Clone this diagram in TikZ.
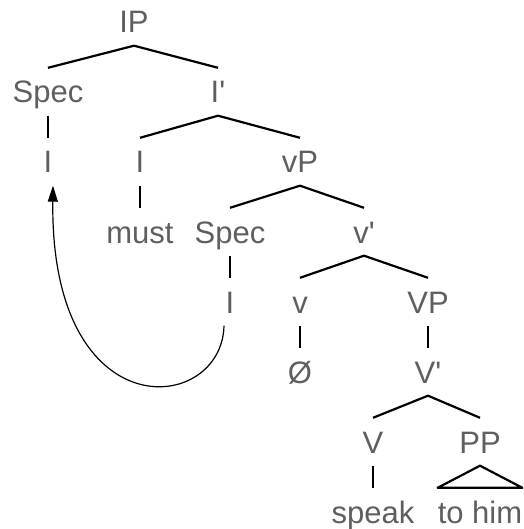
\documentclass[tikz,border=0pt]{standalone}
\usepackage{fontspec}
\setmainfont{Liberation Sans}
\usetikzlibrary{arrows.meta}
\definecolor{lbl}{RGB}{95,95,95}

\begin{document}
\begin{tikzpicture}[x=1pt,y=-1pt,>={Triangle[length=16pt,width=10pt]},
  every node/.style={anchor=base,text=lbl,inner xsep=0pt,inner ysep=12.5pt,
    text height=22.5pt,text depth=0pt,font=\fontsize{31}{37}\selectfont},
  branch/.style={line width=2.2pt,line join=round},
  unary/.style={line width=1.7pt}]
\useasboundingbox (0,0) rectangle (523,529);
%
\node (ip)      at (134,33)  {IP};
\node (ipspec)  at (48,103)  {Spec};
\node (ibar)    at (218,103) {I\textquotesingle};
\node (ipspecI) at (48,173)  {I};
\node (ihead)   at (140,173) {I};
\node (vp)      at (300,173) {vP};
\node (must)    at (140,243) {must};
\node (vpspec)  at (230,243) {Spec};
\node (vbar)    at (364,243) {v\textquotesingle};
\node (vpspecI) at (230,313) {I};
\node (vhead)   at (300,313) {v};
\node (bigvp)   at (428,313) {VP};
\node (null)    at (300,383) {Ø};
\node (bigvbar) at (428,383) {V\textquotesingle};
\node (bigv)    at (373,453) {V};
\node (pp)      at (480,453) {PP};
\node (speak)   at (373,523) {speak};
\node (tohim)   at (480,523) {to him};
%
\draw[branch] (ipspec.north) -- (ip.south) -- (ibar.north);
\draw[branch] (ihead.north) -- (ibar.south) -- (vp.north);
\draw[branch] (vpspec.north) -- (vp.south) -- (vbar.north);
\draw[branch] (vhead.north) -- (vbar.south) -- (bigvp.north);
\draw[branch] (bigv.north) -- (bigvbar.south) -- (pp.north);
\draw[branch] (tohim.north west) -- (pp.south) -- (tohim.north east) -- cycle;
%
\draw[unary] (ipspec) edge (ipspecI)
             (ihead) edge (must)
             (vpspec) edge (vpspecI)
             (vhead) edge (null)
             (bigvp) edge (bigvbar)
             (bigv) edge (speak);
%
\draw[->,line width=1.2pt] ([xshift=-6pt]vpspecI.south) .. controls +(-2,89) and +(-3,246) .. ([xshift=5pt]ipspecI.south);
\end{tikzpicture}
\end{document}
